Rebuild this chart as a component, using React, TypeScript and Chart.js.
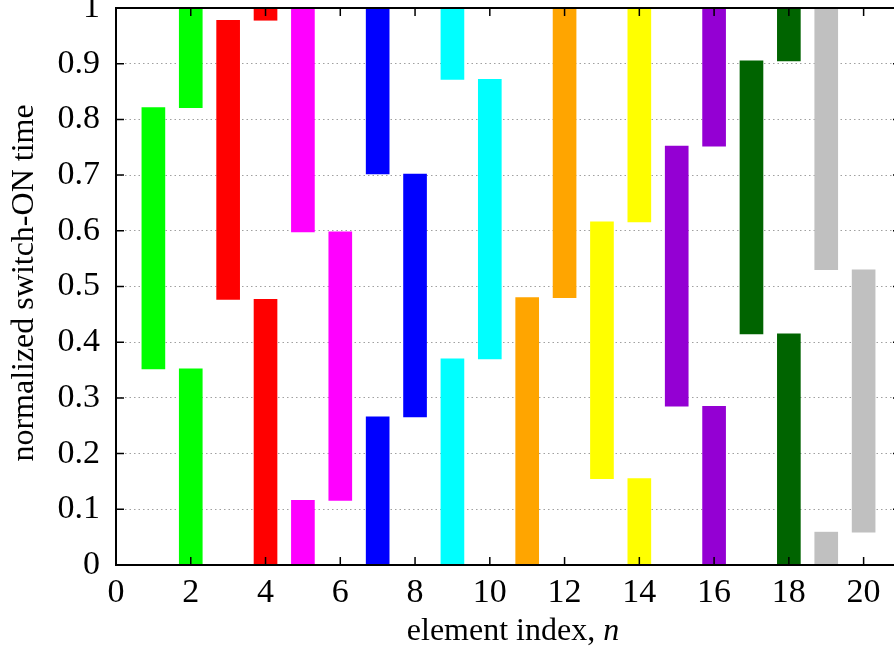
import React, { useEffect, useRef } from "react";
import { Chart, registerables } from "chart.js";

Chart.register(...registerables);

const elements = [1, 2, 3, 4, 5, 6, 7, 8, 9, 10, 11, 12, 13, 14, 15, 16, 17, 18, 19, 20];
// switch-ON interval start / end (normalized); end < start means wrap-around
const onStart = [0.352, 0.821, 0.477, 0.978, 0.598, 0.116, 0.702, 0.266, 0.872, 0.37, 0, 0.48, 0.155, 0.616, 0.285, 0.752, 0.415, 0.905, 0.53, 0.059];
const onEnd = [0.821, 0.352, 0.978, 0.477, 0.116, 0.598, 0.266, 0.702, 0.37, 0.872, 0.48, 1, 0.616, 0.155, 0.752, 0.285, 0.905, 0.415, 0.059, 0.53];
const pairColors = ["#00ff00", "#ff0000", "#ff00ff", "#0000ff", "#00ffff", "#ffa500", "#ffff00", "#9400d3", "#006400", "#c0c0c0"];
const xTickValues = [0, 2, 4, 6, 8, 10, 12, 14, 16, 18, 20];
const xTitle = "element index, ";
const xTitleItalic = "n";
const yTitle = "normalized switch-ON time";

const FONT = "Liberation Serif";

export default function App() {
  const ref = useRef<HTMLCanvasElement | null>(null);

  useEffect(() => {
    document.body.style.margin = "0";
    Chart.defaults.font.family = FONT;
    const colors = elements.map((n) => pairColors[Math.floor((n - 1) / 2)]);
    const primary = elements.map((n, i) => ({
      x: n,
      y: onEnd[i] >= onStart[i] ? [onStart[i], onEnd[i]] : [onStart[i], 1],
    }));
    const wrap = elements
      .map((n, i) => (onEnd[i] < onStart[i] ? { x: n, y: [0, onEnd[i]], c: colors[i] } : null))
      .filter((d) => d !== null) as { x: number; y: number[]; c: string }[];

    const framePlugin = {
      id: "frame",
      afterDatasetsDraw(chart: any) {
        const ctx = chart.ctx;
        const a = chart.chartArea;
        const xs = chart.scales.x;
        const ys = chart.scales.y;
        ctx.save();
        ctx.strokeStyle = "#000";
        ctx.lineWidth = 1.5;
        ctx.beginPath();
        xTickValues.forEach((v) => {
          const px = xs.getPixelForValue(v);
          ctx.moveTo(px, a.bottom);
          ctx.lineTo(px, a.bottom - 8);
          ctx.moveTo(px, a.top);
          ctx.lineTo(px, a.top + 8);
        });
        ys.ticks.forEach((t: any) => {
          const py = ys.getPixelForValue(t.value);
          ctx.moveTo(a.left, py);
          ctx.lineTo(a.left + 8, py);
          ctx.moveTo(a.right, py);
          ctx.lineTo(a.right - 8, py);
        });
        ctx.stroke();
        ctx.lineWidth = 2;
        ctx.strokeRect(a.left, a.top, a.right - a.left, a.bottom - a.top);
        // x title
        ctx.fillStyle = "#000";
        ctx.textBaseline = "alphabetic";
        ctx.font = `32px '${FONT}'`;
        const w1 = ctx.measureText(xTitle).width;
        ctx.font = `italic 32px '${FONT}'`;
        const w2 = ctx.measureText(xTitleItalic).width;
        const cx = 513;
        const x0 = cx - (w1 + w2) / 2;
        ctx.font = `32px '${FONT}'`;
        ctx.textAlign = "left";
        ctx.fillText(xTitle, x0, 640);
        ctx.font = `italic 32px '${FONT}'`;
        ctx.fillText(xTitleItalic, x0 + w1, 640);
        // y title
        ctx.translate(33, 283);
        ctx.rotate(-Math.PI / 2);
        ctx.font = `32px '${FONT}'`;
        ctx.textAlign = "center";
        ctx.fillText(yTitle, 0, 0);
        ctx.restore();
      },
    };

    const chart = new Chart(ref.current as HTMLCanvasElement, {
      type: "bar",
      data: {
        datasets: [
          {
            data: primary as any,
            backgroundColor: colors,
            borderWidth: 0,
            barThickness: 23,
            grouped: false,
          } as any,
          {
            data: wrap as any,
            backgroundColor: wrap.map((d) => d.c),
            borderWidth: 0,
            barThickness: 23,
            grouped: false,
          } as any,
        ],
      },
      options: {
        animation: false,
        responsive: true,
        maintainAspectRatio: false,
        layout: { padding: { top: 8, left: 0, right: 0, bottom: 0 } },
        plugins: { legend: { display: false }, tooltip: { enabled: false } },
        scales: {
          x: {
            type: "linear",
            min: 0,
            max: 21,
            offset: false,
            afterFit: (s: any) => {
              s.height = 88;
              s.paddingLeft = 0;
              s.paddingRight = 0;
            },
            afterBuildTicks: (s: any) => {
              s.ticks = xTickValues.map((v) => ({ value: v }));
            },
            grid: { display: false, drawTicks: false },
            border: { display: false },
            ticks: {
              font: { family: FONT, size: 34 },
              color: "#000",
              padding: 8,
              maxRotation: 0,
              autoSkip: false,
            },
          },
          y: {
            min: 0,
            max: 1,
            afterFit: (s: any) => {
              s.width = 116;
              s.paddingTop = 0;
              s.paddingBottom = 0;
            },
            grid: {
              color: "#a0a0a0",
              lineWidth: 1,
              drawTicks: false,
            },
            border: { display: false, dash: [1.5, 3] } as any,
            ticks: {
              stepSize: 0.1,
              font: { family: FONT, size: 34 },
              color: "#000",
              padding: 16,
              callback: (v: any) => String(Number(Number(v).toFixed(1))),
            },
          },
        },
      },
      plugins: [framePlugin],
    });

    return () => chart.destroy();
  }, []);

  return (
    <div style={{ position: "absolute", left: 0, top: 0, width: 894, height: 653, overflow: "hidden" }}>
      <div style={{ position: "relative", width: 901, height: 653 }}>
        <canvas ref={ref} />
      </div>
    </div>
  );
}
